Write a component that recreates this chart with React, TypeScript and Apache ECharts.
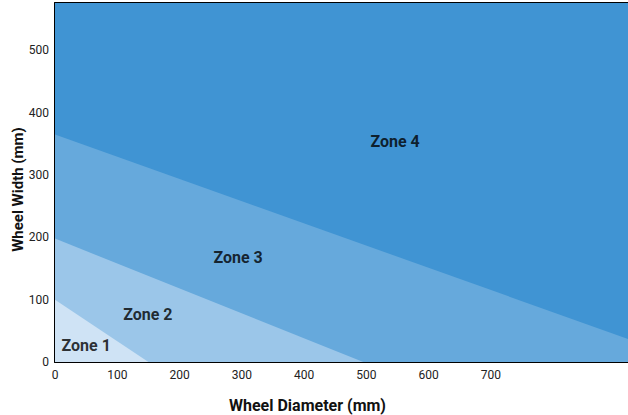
import React, { useEffect, useRef } from "react";
import * as echarts from "echarts";

// Zone boundary lines [diameter mm, width mm]
const zone1Line = [[0, 100], [150, 0]];
const zone2Line = [[0, 198], [495, 0]];
const zone3Line = [[0, 365], [920, 37]];
const zone4Line = [[0, 576], [920, 576]];

// Zone label positions [diameter, width, name]
const zoneLabels: [number, number, string][] = [
  [50, 27, "Zone 1"],
  [149, 76, "Zone 2"],
  [294, 167, "Zone 3"],
  [546, 354, "Zone 4"],
];

const xTicks = [0, 100, 200, 300, 400, 500, 600, 700];
const yTicks = [0, 100, 200, 300, 400, 500];

const zoneColors = ["#cfe3f5", "#9bc6e9", "#66a9dc", "#4094d3"];

const FONT = "Roboto, 'Liberation Sans', Arial, sans-serif";

export default function App() {
  const ref = useRef<HTMLDivElement>(null);
  useEffect(() => {
    if (!ref.current) return;
    const chart = echarts.init(ref.current, null, { renderer: "svg" });
    const areaSeries = (data: number[][], color: string, z: number) => ({
      type: "line",
      data,
      symbol: "none",
      lineStyle: { width: 0, color },
      areaStyle: { color, opacity: 1, origin: "start" },
      z,
      silent: true,
    });
    chart.setOption({
      animation: false,
      grid: { left: 55, right: 0, top: 3, bottom: 53, outerBoundsMode: "none", containLabel: false },
      xAxis: [
        {
          type: "value",
          min: 0,
          max: 920,
          interval: 100,
          name: "Wheel Diameter (mm)",
          nameLocation: "middle",
          nameGap: 35,
          nameMoveOverlap: false,
          nameTextStyle: {
            fontFamily: FONT,
            fontWeight: "bold",
            fontSize: 16,
            color: "#111",
            padding: [0, 68, 0, 0],
          },
          axisLine: { show: true, lineStyle: { color: "#000", width: 2 } },
          axisTick: { show: false },
          splitLine: { show: false },
          axisLabel: {
            fontFamily: FONT,
            fontSize: 12,
            color: "#222",
            margin: 7,
            showMaxLabel: false,
            formatter: (v: number) => (xTicks.includes(v) ? String(v) : ""),
          },
        },
        {
          type: "value",
          position: "top",
          min: 0,
          max: 920,
          axisLine: { show: true, lineStyle: { color: "#000", width: 2 } },
          axisTick: { show: false },
          axisLabel: { show: false },
          splitLine: { show: false },
        },
      ],
      yAxis: {
        type: "value",
        min: 0,
        max: 576,
        interval: 100,
        name: "Wheel Width (mm)",
        nameLocation: "middle",
        nameGap: 30,
        nameMoveOverlap: false,
        nameTextStyle: {
          fontFamily: FONT,
          fontWeight: "bold",
          fontSize: 15,
          color: "#111",
          padding: [0, 14, 0, 0],
        },
        axisLine: { show: true, lineStyle: { color: "#000", width: 2 } },
        axisTick: { show: false },
        splitLine: { show: false },
        axisLabel: {
          fontFamily: FONT,
          fontSize: 12,
          color: "#222",
          margin: 6,
          showMaxLabel: false,
          formatter: (v: number) => (yTicks.includes(v) ? String(v) : ""),
        },
      },
      series: [
        areaSeries(zone4Line, zoneColors[3], 1),
        areaSeries(zone3Line, zoneColors[2], 2),
        areaSeries(zone2Line, zoneColors[1], 3),
        areaSeries(zone1Line, zoneColors[0], 4),
        {
          type: "scatter",
          data: zoneLabels.map((d) => [d[0], d[1], d[2]]),
          symbolSize: 0,
          z: 10,
          silent: true,
          label: {
            show: true,
            position: "inside",
            formatter: (p: any) => p.data[2],
            fontFamily: FONT,
            fontWeight: "bold",
            fontSize: 16,
            color: "#000",
          },
        },
      ],
    });
    return () => chart.dispose();
  }, []);
  return (
    <div
      ref={ref}
      style={{ position: "fixed", left: 0, top: 0, width: 628, height: 415, background: "#fff" }}
    />
  );
}
